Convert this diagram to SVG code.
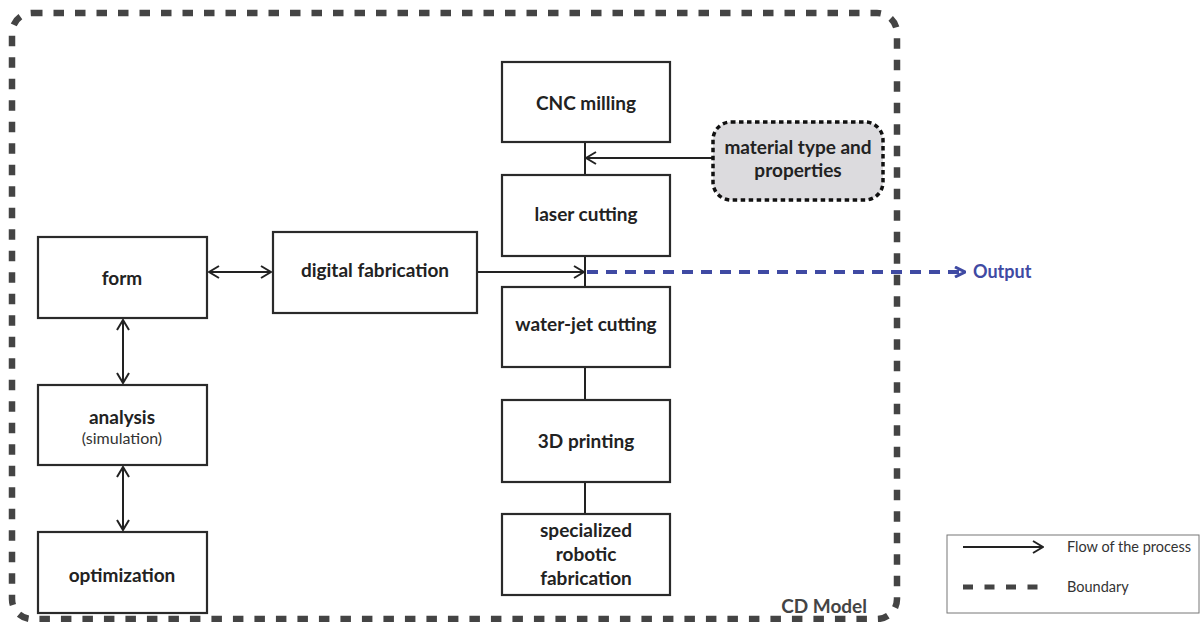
<svg xmlns="http://www.w3.org/2000/svg" width="1203" height="622" viewBox="0 0 1203 622">
<defs>
<style>
.box{fill:#fff;stroke:#2a2a2a;stroke-width:2.2}
.t{font-family:"Lato","Liberation Sans",sans-serif;font-weight:bold;font-size:19px;fill:#222;text-anchor:middle}
.s{font-family:"Lato","Liberation Sans",sans-serif;font-size:16px;fill:#333;text-anchor:middle}
.ln{stroke:#222;stroke-width:2;fill:none}
.lg{font-family:"Lato","Liberation Sans",sans-serif;font-size:14.5px;fill:#333}
</style>
<marker id="ah" viewBox="0 0 12 14" refX="11" refY="7" markerWidth="12" markerHeight="14" markerUnits="userSpaceOnUse" orient="auto-start-reverse">
<path d="M1,1 L11,7 L1,13" fill="none" stroke="#222" stroke-width="2"/>
</marker>
<marker id="bh" viewBox="0 0 12 12" refX="11" refY="6" markerWidth="12" markerHeight="12" markerUnits="userSpaceOnUse" orient="auto">
<path d="M1,1 L11,6 L1,11" fill="none" stroke="#3f4aa3" stroke-width="3"/>
</marker>
</defs>
<rect width="1203" height="622" fill="#fff"/>
<g id="boundary">
<rect x="12" y="13" width="885" height="606" rx="20" fill="none" stroke="#444" stroke-width="6.5" stroke-dasharray="10.5 11"/>
<text x="867" y="613" style="font-family:'Lato','Liberation Sans',sans-serif;font-weight:bold;font-size:19px;fill:#444;text-anchor:end">CD Model</text>
</g>
<g id="connectors">
<line class="ln" x1="209" y1="272" x2="271" y2="272" marker-start="url(#ah)" marker-end="url(#ah)"/>
<line class="ln" x1="123" y1="320" x2="123" y2="383" marker-start="url(#ah)" marker-end="url(#ah)"/>
<line class="ln" x1="123" y1="467" x2="123" y2="530" marker-start="url(#ah)" marker-end="url(#ah)"/>
<line class="ln" x1="477" y1="272" x2="584" y2="272" marker-end="url(#ah)"/>
<line class="ln" x1="712" y1="158" x2="586" y2="158" marker-end="url(#ah)"/>
<line class="ln" x1="585" y1="142" x2="585" y2="175"/>
<line class="ln" x1="585" y1="256" x2="585" y2="287"/>
<line class="ln" x1="585" y1="367" x2="585" y2="400"/>
<line class="ln" x1="585" y1="482" x2="585" y2="514"/>
<line x1="587" y1="272" x2="965" y2="272" stroke="#3f4aa3" stroke-width="4" stroke-dasharray="11 8" marker-end="url(#bh)"/>
</g>
<g id="output"><text x="973" y="278" style="font-family:'Lato','Liberation Sans',sans-serif;font-weight:bold;font-size:18px;fill:#3f4aa3">Output</text></g>
<g id="form"><rect class="box" x="38" y="237" width="169" height="81"/><text class="t" x="122" y="285">form</text></g>
<g id="digital-fabrication"><rect class="box" x="273" y="232" width="204" height="81"/><text class="t" x="375" y="277">digital fabrication</text></g>
<g id="analysis"><rect class="box" x="38" y="385" width="169" height="80"/><text class="t" x="122" y="424">analysis</text><text class="s" x="122" y="444">(simulation)</text></g>
<g id="optimization"><rect class="box" x="38" y="532" width="169" height="81"/><text class="t" x="122" y="582">optimization</text></g>
<g id="cnc-milling"><rect class="box" x="502" y="62" width="168" height="80"/><text class="t" x="586" y="110">CNC milling</text></g>
<g id="laser-cutting"><rect class="box" x="502" y="175" width="168" height="81"/><text class="t" x="586" y="221">laser cutting</text></g>
<g id="water-jet-cutting"><rect class="box" x="502" y="287" width="168" height="80"/><text class="t" x="586" y="331">water-jet cutting</text></g>
<g id="printing"><rect class="box" x="502" y="400" width="168" height="82"/><text class="t" x="586" y="448">3D printing</text></g>
<g id="robotic"><rect class="box" x="502" y="514" width="168" height="81"/><text class="t" x="586" y="537">specialized</text><text class="t" x="586" y="561">robotic</text><text class="t" x="586" y="585">fabrication</text></g>
<g id="material"><rect x="713" y="122" width="170" height="78" rx="18" fill="#dcdbde" stroke="#111" stroke-width="3.5" stroke-dasharray="4.5 3.5"/><text class="t" x="798" y="154">material type and</text><text class="t" x="798" y="177">properties</text></g>
<g id="legend">
<rect x="947" y="535" width="252" height="78" fill="#fff" stroke="#777" stroke-width="1"/>
<line class="ln" x1="963" y1="547" x2="1043" y2="547" marker-end="url(#ah)"/>
<text class="lg" x="1067" y="552">Flow of the process</text>
<line x1="963" y1="587" x2="1041" y2="587" stroke="#444" stroke-width="5" stroke-dasharray="10 11.5"/>
<text class="lg" x="1067" y="592">Boundary</text>
</g>
</svg>
